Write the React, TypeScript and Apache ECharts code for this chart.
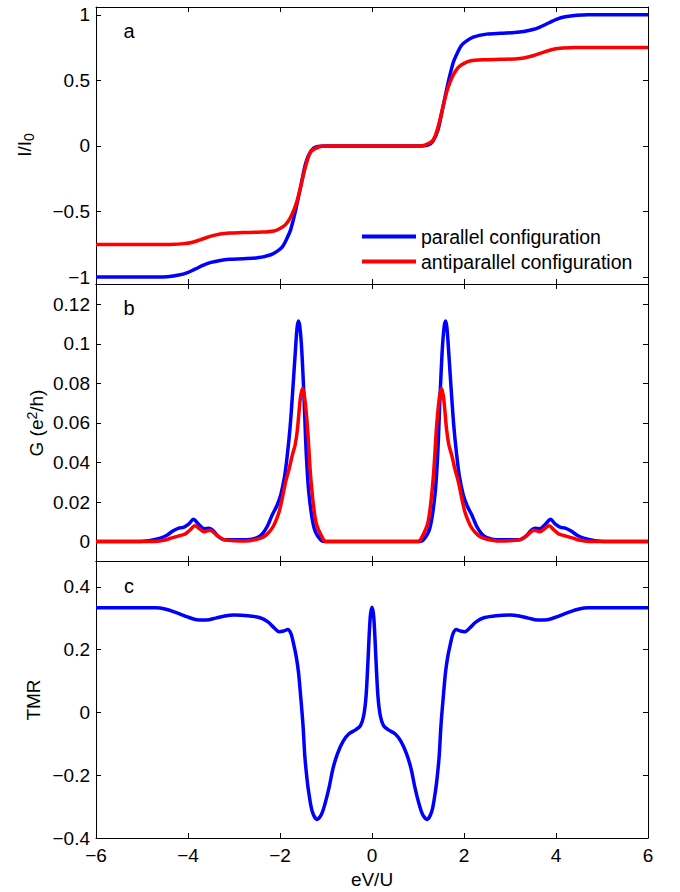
import React, { useEffect, useRef } from "react";
import * as echarts from "echarts";

// ---------- data ----------
// Panel a: I/I0 vs eV/U
const xIpar = [-6, -4.7, -4.45, -4.2, -4.01, -3.85, -3.65, -3.5, -3.3, -3.1, -2.8, -2.49, -2.2, -2.05, -1.95, -1.87, -1.77, -1.66, -1.55, -1.44, -1.33, -1.2, -1.0, 0, 1.0, 1.2, 1.33, 1.44, 1.55, 1.66, 1.77, 1.87, 1.95, 2.05, 2.2, 2.49, 2.8, 3.1, 3.3, 3.5, 3.65, 3.85, 4.01, 4.2, 4.45, 4.7, 6];
const yIpar = [-1.0, -1.0, -0.997, -0.985, -0.966, -0.94, -0.907, -0.888, -0.873, -0.865, -0.86, -0.853, -0.83, -0.8, -0.77, -0.72, -0.64, -0.49, -0.31, -0.13, -0.04, -0.005, 0, 0, 0, 0.005, 0.04, 0.13, 0.31, 0.49, 0.64, 0.72, 0.77, 0.8, 0.83, 0.853, 0.86, 0.865, 0.873, 0.888, 0.907, 0.94, 0.966, 0.985, 0.997, 1.0, 1.0];

const xIanti = [-6, -4.7, -4.4, -4.09, -3.9, -3.72, -3.5, -3.3, -3.1, -2.8, -2.4, -2.13, -2.0, -1.88, -1.78, -1.7, -1.63, -1.55, -1.44, -1.33, -1.15, -1.0, 0, 1.0, 1.15, 1.33, 1.44, 1.55, 1.63, 1.7, 1.78, 1.88, 2.0, 2.13, 2.4, 2.8, 3.1, 3.3, 3.5, 3.72, 3.9, 4.09, 4.4, 4.7, 6];
const yIanti = [-0.752, -0.752, -0.751, -0.745, -0.734, -0.714, -0.688, -0.671, -0.664, -0.661, -0.657, -0.648, -0.63, -0.6, -0.55, -0.49, -0.42, -0.31, -0.15, -0.045, -0.006, 0, 0, 0, 0.006, 0.045, 0.15, 0.31, 0.42, 0.49, 0.55, 0.6, 0.63, 0.648, 0.657, 0.661, 0.664, 0.671, 0.688, 0.714, 0.734, 0.745, 0.751, 0.752, 0.752];

// Panel b: G (e^2/h)
const xGpar = [-6, -5.2, -4.9, -4.74, -4.6, -4.45, -4.32, -4.2, -4.1, -3.98, -3.88, -3.78, -3.65, -3.54, -3.45, -3.36, -3.22, -3.0, -2.71, -2.5, -2.38, -2.27, -2.17, -2.07, -1.98, -1.9, -1.84, -1.78, -1.73, -1.67, -1.63, -1.6, -1.57, -1.53, -1.48, -1.43, -1.37, -1.26, -1.12, -1.0, 0, 1.0, 1.12, 1.26, 1.37, 1.43, 1.48, 1.53, 1.57, 1.6, 1.63, 1.67, 1.73, 1.78, 1.84, 1.9, 1.98, 2.07, 2.17, 2.27, 2.38, 2.5, 2.71, 3.0, 3.22, 3.36, 3.45, 3.54, 3.65, 3.78, 3.88, 3.98, 4.1, 4.2, 4.32, 4.45, 4.6, 4.74, 4.9, 5.2, 6];
const yGpar = [0, 0, 0.0003, 0.001, 0.0018, 0.0034, 0.0055, 0.0068, 0.0072, 0.009, 0.0113, 0.009, 0.0065, 0.0068, 0.0055, 0.003, 0.001, 0.001, 0.001, 0.002, 0.004, 0.008, 0.0135, 0.018, 0.024, 0.033, 0.044, 0.058, 0.074, 0.095, 0.108, 0.1116, 0.109, 0.098, 0.074, 0.045, 0.024, 0.007, 0.001, 0, 0, 0, 0.001, 0.007, 0.024, 0.045, 0.074, 0.098, 0.109, 0.1116, 0.108, 0.095, 0.074, 0.058, 0.044, 0.033, 0.024, 0.018, 0.0135, 0.008, 0.004, 0.002, 0.001, 0.001, 0.001, 0.003, 0.0055, 0.0068, 0.0065, 0.009, 0.0113, 0.009, 0.0072, 0.0068, 0.0055, 0.0034, 0.0018, 0.001, 0.0003, 0, 0];

const xGanti = [-6, -5.0, -4.66, -4.5, -4.38, -4.25, -4.12, -4.05, -3.95, -3.85, -3.75, -3.65, -3.52, -3.36, -3.22, -3.0, -2.76, -2.5, -2.35, -2.25, -2.17, -2.1, -2.02, -1.95, -1.88, -1.8, -1.73, -1.67, -1.62, -1.56, -1.51, -1.46, -1.4, -1.33, -1.22, -1.08, -1.0, 0, 1.0, 1.08, 1.22, 1.33, 1.4, 1.46, 1.51, 1.56, 1.62, 1.67, 1.73, 1.8, 1.88, 1.95, 2.02, 2.1, 2.17, 2.25, 2.35, 2.5, 2.76, 3.0, 3.22, 3.36, 3.52, 3.65, 3.75, 3.85, 3.95, 4.05, 4.12, 4.25, 4.38, 4.5, 4.66, 5.0, 6];
const yGanti = [0, 0, 0.0002, 0.0008, 0.0017, 0.0025, 0.0034, 0.004, 0.006, 0.008, 0.0065, 0.005, 0.0058, 0.003, 0.001, 0.0005, 0.0003, 0.0012, 0.0025, 0.0045, 0.0068, 0.01, 0.015, 0.022, 0.03, 0.037, 0.044, 0.049, 0.057, 0.072, 0.0776, 0.072, 0.057, 0.032, 0.01, 0.002, 0, 0, 0, 0.002, 0.01, 0.032, 0.057, 0.072, 0.0776, 0.072, 0.057, 0.049, 0.044, 0.037, 0.03, 0.022, 0.015, 0.01, 0.0068, 0.0045, 0.0025, 0.0012, 0.0003, 0.0005, 0.001, 0.003, 0.0058, 0.005, 0.0065, 0.008, 0.006, 0.004, 0.0034, 0.0025, 0.0017, 0.0008, 0.0002, 0, 0];

// Panel c: TMR
const xTMR = [-6, -4.7, -4.5, -4.3, -4.05, -3.9, -3.75, -3.6, -3.4, -3.2, -3.0, -2.7, -2.45, -2.27, -2.12, -2.02, -1.92, -1.83, -1.76, -1.7, -1.65, -1.6, -1.55, -1.5, -1.46, -1.41, -1.37, -1.3, -1.2, -1.1, -1.02, -0.93, -0.85, -0.75, -0.62, -0.5, -0.35, -0.25, -0.18, -0.13, -0.09, -0.04, 0, 0.04, 0.09, 0.13, 0.18, 0.25, 0.35, 0.5, 0.62, 0.75, 0.85, 0.93, 1.02, 1.1, 1.2, 1.3, 1.37, 1.41, 1.46, 1.5, 1.55, 1.6, 1.65, 1.7, 1.76, 1.83, 1.92, 2.02, 2.12, 2.27, 2.45, 2.7, 3.0, 3.2, 3.4, 3.6, 3.75, 3.9, 4.05, 4.3, 4.5, 4.7, 6];
const yTMR = [0.333, 0.333, 0.329, 0.32, 0.306, 0.298, 0.294, 0.294, 0.3, 0.307, 0.31, 0.308, 0.302, 0.289, 0.268, 0.257, 0.259, 0.264, 0.25, 0.215, 0.18, 0.13, 0.05, -0.04, -0.14, -0.216, -0.26, -0.315, -0.341, -0.325, -0.29, -0.237, -0.18, -0.131, -0.09, -0.068, -0.055, -0.042, -0.01, 0.05, 0.156, 0.3, 0.335, 0.3, 0.156, 0.05, -0.01, -0.042, -0.055, -0.068, -0.09, -0.131, -0.18, -0.237, -0.29, -0.325, -0.341, -0.315, -0.26, -0.216, -0.14, -0.04, 0.05, 0.13, 0.18, 0.215, 0.25, 0.264, 0.259, 0.257, 0.268, 0.289, 0.302, 0.308, 0.31, 0.307, 0.3, 0.294, 0.294, 0.298, 0.306, 0.32, 0.329, 0.333, 0.333];

// axis ticks
const ticksI = [-1, -0.5, 0, 0.5, 1];
const ticksG = [0, 0.02, 0.04, 0.06, 0.08, 0.1, 0.12];
const ticksTMR = [-0.4, -0.2, 0, 0.2, 0.4];

const seriesNames = ["parallel configuration", "antiparallel configuration"];

// ---------- styling ----------
const FONT = "'Liberation Sans', Arial, Helvetica, sans-serif";
const AXIS_COLOR = "#000";
const BLUE = "#0000ff";
const RED = "#ff0000";
const FS = 19;

const zip = (xs: number[], ys: number[]) => xs.map((x, i) => [x, ys[i]]);
const fmt = (v: number) => String(Number(v.toFixed(4))).replace("-", "\u2212");

function xAx(gridIndex: number, position: string, showLabels: boolean) {
  return {
    type: "value",
    gridIndex,
    position,
    min: -6,
    max: 6,
    interval: 2,
    axisLine: { show: true, onZero: false, lineStyle: { color: AXIS_COLOR, width: 1 } },
    axisTick: { show: true, inside: true, length: 5, lineStyle: { color: AXIS_COLOR, width: 1 } },
    axisLabel: { show: showLabels, fontSize: FS, fontFamily: FONT, color: "#000", margin: 8, formatter: fmt },
    splitLine: { show: false },
    name: showLabels ? "eV/U" : "",
    nameLocation: "middle",
    nameGap: 32,
    nameTextStyle: { fontSize: FS, fontFamily: FONT, color: "#000" },
  };
}

function yAx(gridIndex: number, position: string, min: number, max: number, ticks: number[], showLabels: boolean) {
  return {
    type: "value",
    gridIndex,
    position,
    min,
    max,
    axisLine: { show: true, onZero: false, lineStyle: { color: AXIS_COLOR, width: 1 } },
    axisTick: { show: true, inside: true, length: 5, customValues: ticks, lineStyle: { color: AXIS_COLOR, width: 1 } },
    axisLabel: { show: showLabels, customValues: ticks, fontSize: FS, fontFamily: FONT, color: "#000", margin: 6, formatter: fmt },
    splitLine: { show: false },
  };
}

function line(name: string, data: number[][], color: string, idx: number) {
  return {
    type: "line",
    name,
    xAxisIndex: idx,
    yAxisIndex: idx,
    data,
    showSymbol: false,
    symbol: "none",
    smooth: 0.3,
    lineStyle: { color, width: 3.5 },
    itemStyle: { color },
    z: color === RED ? 3 : 2,
  };
}

export default function App() {
  const ref = useRef<HTMLDivElement>(null);

  useEffect(() => {
    if (!ref.current) return;
    const chart = echarts.init(ref.current, null, { renderer: "svg" });
    const textBase = { fontFamily: FONT, fill: "#000" };
    const option = {
      animation: false,
      backgroundColor: "#fff",
      grid: [
        { left: 96, top: 7, width: 552, height: 277 },
        { left: 96, top: 284, width: 552, height: 277 },
        { left: 96, top: 561, width: 552, height: 277 },
      ],
      xAxis: [
        xAx(0, "bottom", false),
        xAx(0, "top", false),
        xAx(1, "bottom", false),
        xAx(1, "top", false),
        xAx(2, "bottom", true),
        xAx(2, "top", false),
      ],
      yAxis: [
        yAx(0, "left", -1.053, 1.06, ticksI, true),
        yAx(0, "right", -1.053, 1.06, ticksI, false),
        yAx(1, "left", -0.0098, 0.1303, ticksG, true),
        yAx(1, "right", -0.0098, 0.1303, ticksG, false),
        yAx(2, "left", -0.4, 0.482, ticksTMR, true),
        yAx(2, "right", -0.4, 0.482, ticksTMR, false),
      ],
      legend: {
        data: seriesNames,
        orient: "vertical",
        left: 362,
        top: 226,
        padding: 0,
        itemWidth: 54,
        itemHeight: 4,
        itemGap: 4,
        icon: "rect",
        selectedMode: false,
        textStyle: { fontSize: 19.5, fontFamily: FONT, color: "#000", lineHeight: 21 },
      },
      series: [
        line(seriesNames[0], zip(xIpar, yIpar), BLUE, 0),
        line(seriesNames[1], zip(xIanti, yIanti), RED, 0),
        line(seriesNames[0], zip(xGpar, yGpar), BLUE, 2),
        line(seriesNames[1], zip(xGanti, yGanti), RED, 2),
        line("TMR", zip(xTMR, yTMR), BLUE, 4),
      ],
      graphic: [
        {
          type: "text",
          x: 25,
          y: 145,
          rotation: Math.PI / 2,
          style: {
            text: "{m|I/I}{s|0}",
            align: "center",
            verticalAlign: "middle",
            rich: {
              m: { fontSize: FS, fontFamily: FONT, fill: "#000", lineHeight: 21, verticalAlign: "top" },
              s: { fontSize: 14, fontFamily: FONT, fill: "#000", lineHeight: 14, verticalAlign: "bottom", padding: [9, 0, 0, 0] },
            },
          },
        },
        {
          type: "text",
          x: 35,
          y: 423,
          rotation: Math.PI / 2,
          style: {
            text: "{m|G (e}{p|2}{m|/h)}",
            align: "center",
            verticalAlign: "middle",
            rich: {
              m: { fontSize: FS, fontFamily: FONT, fill: "#000", lineHeight: 21, verticalAlign: "bottom", padding: [2, 0, 0, 0] },
              p: { fontSize: 14, fontFamily: FONT, fill: "#000", lineHeight: 14, verticalAlign: "top" },
            },
          },
        },
        {
          type: "text",
          x: 33,
          y: 700,
          rotation: Math.PI / 2,
          style: { ...textBase, text: "TMR", fontSize: FS, align: "center", verticalAlign: "middle" },
        },
        { type: "text", x: 129, y: 31, style: { ...textBase, text: "a", fontSize: 20, align: "center", verticalAlign: "middle" } },
        { type: "text", x: 129, y: 308, style: { ...textBase, text: "b", fontSize: 20, align: "center", verticalAlign: "middle" } },
        { type: "text", x: 129, y: 586, style: { ...textBase, text: "c", fontSize: 20, align: "center", verticalAlign: "middle" } },
      ],
    };
    chart.setOption(option as any);
    return () => chart.dispose();
  }, []);

  return (
    <div
      ref={ref}
      style={{ position: "absolute", left: 0, top: 0, width: 680, height: 892, background: "#fff" }}
    />
  );
}
